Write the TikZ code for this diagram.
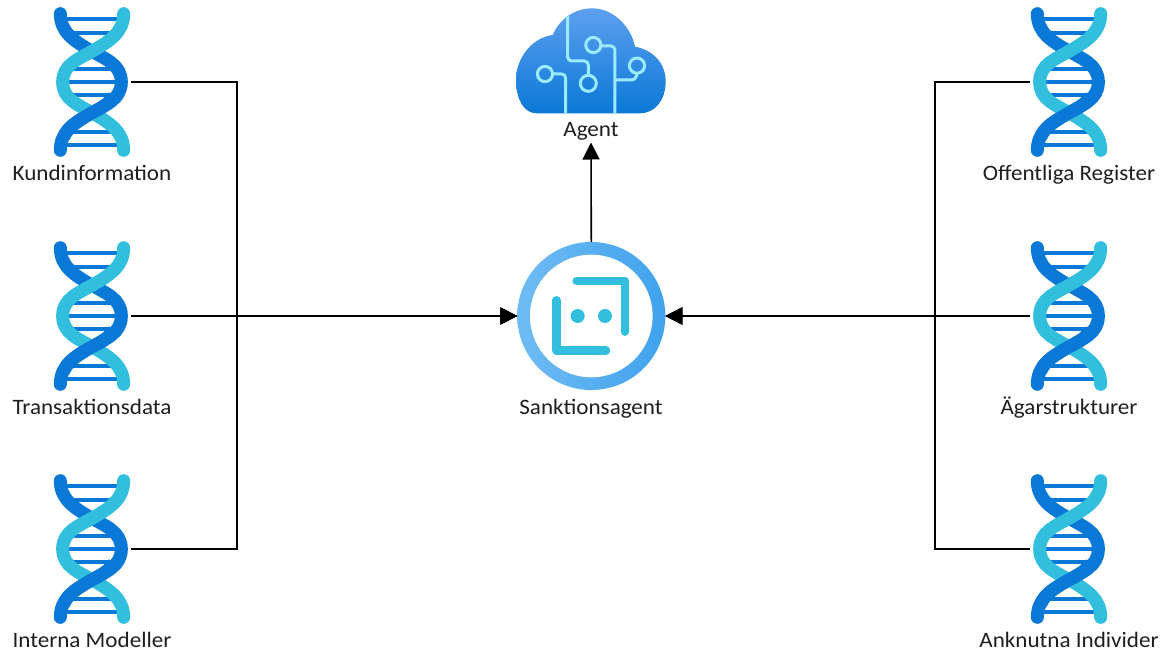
\documentclass[tikz,border=0pt]{standalone}
\usepackage{fontspec}
\setmainfont{Carlito}[FakeStretch=1.05]
\usetikzlibrary{arrows.meta,calc}
\definecolor{dnadark}{HTML}{0A78D6}
\definecolor{dnalight}{HTML}{32BEDD}
\definecolor{ringa}{HTML}{70BBF5}
\definecolor{ringb}{HTML}{3FA2EC}
\definecolor{cloudtop}{HTML}{5EA0EF}
\definecolor{circuit}{HTML}{9BEBFF}
\tikzset{
  zoomunits/.style={x=0.3333pt,y=-0.3333pt},
  strand/.style={line width=13pt,line cap=round},
  rung/.style={line width=4pt,dnadark},
  wire/.style={line width=1.6pt,black},
  wirearrow/.style={wire,-{Triangle[length=17pt,width=17pt]}},
  circuitline/.style={line width=3pt,circuit,rounded corners=4pt},
  circuitdot/.style={line width=3pt,circuit},
  iconbox/.style={minimum width=78pt,minimum height=150pt,inner sep=0pt,outer sep=0pt},
  lbl/.style={font=\fontsize{22}{24}\selectfont,text=black!88,inner sep=0pt,anchor=base},
  dna/.pic={
    \begin{scope}[zoomunits]
      \foreach \yy/\xa/\xb in {-188/-85/85,-147/-65/65,-38/-75/75,0/-80/80,38/-75/75,150/-65/65,190/-85/85}
        \draw[rung] (\xa,\yy) -- (\xb,\yy);
      \draw[strand,dnadark] (-95,-205) .. controls (-95,-150) and (-55,-124) .. (-5,-95)
        .. controls (42,-68) and (88,-52) .. (88,0)
        .. controls (88,52) and (42,68) .. (-5,95)
        .. controls (-55,124) and (-95,150) .. (-95,205);
      \draw[strand,dnalight] (95,-205) .. controls (95,-150) and (55,-124) .. (5,-95)
        .. controls (-42,-68) and (-88,-52) .. (-88,0)
        .. controls (-88,52) and (-42,68) .. (5,95)
        .. controls (55,124) and (95,150) .. (95,205);
      \draw[strand,dnadark,line cap=butt] (66,44) .. controls (45,68) and (30,78) .. (-5,95)
        .. controls (-45,119) and (-70,132) .. (-85,165);
    \end{scope}
  }
}
\begin{document}
\begin{tikzpicture}[x=1pt,y=-1pt]
\useasboundingbox (0,0) rectangle (1172,655);
\fill[white] (0,0) rectangle (1172,655);

% source icons
\foreach \nm/\xx/\yy in {k/92/82,t/92/316,i/92/549,o/1069/82,a/1069/316,n/1069/549}{
  \node[iconbox] (\nm) at (\xx,\yy) {};
  \pic at (\xx,\yy) {dna};
}

% cloud
\node[inner sep=0pt,minimum width=151pt,minimum height=105pt] (cloud) at (591,60.5) {};
\begin{scope}[shift={(505,0)},zoomunits]
  \shade[top color=cloudtop,bottom color=dnadark]
    (95,340) .. controls (55,340) and (33,295) .. (33,240)
    .. controls (33,170) and (85,112) .. (143,105)
    .. controls (165,55) and (210,25) .. (262,25)
    .. controls (325,25) and (378,80) .. (390,140)
    .. controls (445,150) and (482,190) .. (482,245)
    .. controls (482,300) and (450,340) .. (405,340) -- cycle;
  \draw[circuitline] (188,48) -- (188,183) -- (250,183) -- (250,226);
  \draw[circuitdot] (250,250) circle[radius=8pt];
  \draw[circuitline] (182,340) -- (182,222) -- (144,222);
  \draw[circuitdot] (120,222) circle[radius=7.6pt];
  \draw[circuitline] (330,340) -- (330,138) -- (290,138);
  \draw[circuitdot] (265,135) circle[radius=7.6pt];
  \draw[circuitline] (332,240) -- (392,240) -- (396,220);
  \draw[circuitdot] (396,197) circle[radius=7.6pt];
\end{scope}

% agent circle
\node[circle,minimum size=148pt,inner sep=0pt,outer sep=0pt] (s) at (591.3,316) {};
\shade[shading angle=-65,left color=ringa,middle color=ringa,right color=ringb]
  (591.3,316) circle[radius=74pt];
\fill[white] (591.3,316) circle[radius=61.3pt];
\begin{scope}[shift={(495,235)},zoomunits]
  \draw[dnalight,line width=8.5pt,line cap=round,line join=round]
    (245,138) -- (390,138) -- (390,290);
  \draw[dnalight,line width=8.5pt,line cap=round,line join=round]
    (185,196) -- (185,347) -- (333,347);
  \fill[dnalight] (248,243) circle[radius=7pt];
  \fill[dnalight] (330,243) circle[radius=7pt];
\end{scope}

% junctions
\coordinate (jl) at (237,316);
\coordinate (jr) at (935,316);

% connectors
\draw[wirearrow] (k.east) -| (jl) -- (s.west);
\draw[wirearrow] (i.east) -| (jl) -- (s.west);
\draw[wirearrow] (t.east) -- (s.west);
\draw[wirearrow] (o.west) -| (jr) -- (s.east);
\draw[wirearrow] (n.west) -| (jr) -- (s.east);
\draw[wirearrow] (a.west) -- (s.east);
\coordinate (agentfoot) at (591,142.5);
\node[lbl] (agent) at (591,137) {Agent};
\draw[wirearrow] (s.north) -- (agentfoot);

% labels
\node[lbl] at (92,180.5) {Kundinformation};
\node[lbl] at (92,414) {Transaktionsdata};
\node[lbl] at (92,647) {Interna Modeller};
\node[lbl] at (1069,180.5) {Offentliga Register};
\node[lbl] at (1069,414) {Ägarstrukturer};
\node[lbl] at (1069,647) {Anknutna Individer};
\node[lbl] at (591,414) {Sanktionsagent};
\end{tikzpicture}
\end{document}
